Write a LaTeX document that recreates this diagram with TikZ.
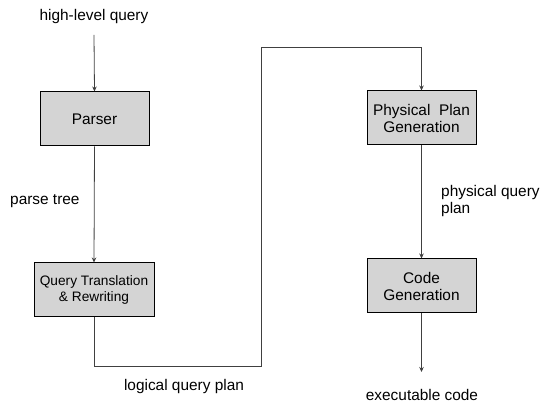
\documentclass[tikz,border=0pt]{standalone}
\usepackage{fontspec}
\setmainfont{Liberation Sans}
\usetikzlibrary{arrows.meta}
\begin{document}
\begin{tikzpicture}[x=1pt,y=-1pt,
  font=\fontsize{15.4}{17}\selectfont,
  procbox/.style={draw=black, line width=1pt, fill=black!17, minimum width=109pt, minimum height=54pt, align=center, inner sep=0pt},
  lbl/.style={inner sep=0pt},
  conn/.style={draw=black!75, line width=0.8pt},
  arr/.style={conn, -{Stealth[length=5pt,width=4.5pt]}}
]
\useasboundingbox (0,0) rectangle (541,403);
\node[lbl] (hl) at (94,17) {high-level query};
\node[procbox] (parser) at (94.5,119) {Parser};
\node[lbl, anchor=west] (pt) at (10,201) {parse tree};
\node[procbox, minimum width=120pt, font=\fontsize{13.7}{16}\selectfont] (qt) at (94,290) {Query Translation\\\& Rewriting};
\node[lbl] (lqp) at (184,387) {logical query plan};
\node[procbox] (ppg) at (421.5,118) {Physical\ \ Plan\\Generation};
\node[lbl, anchor=west, align=left, font=\fontsize{15.4}{17.5}\selectfont] (pqp) at (441,201) {physical query\\plan};
\node[procbox] (cg) at (421.5,286) {Code\\Generation};
\node[lbl] (ec) at (422,394.5) {executable code};

\coordinate (hlout) at (94,35);
\coordinate (c1) at (94,366);
\coordinate (c2) at (261,366);
\coordinate (c3) at (261,47);
\coordinate (c4) at (421.5,47);
\coordinate (ecin) at (421.5,372);

\draw[arr] (hlout) -- (parser.north);
\draw[arr] (parser.south) -- (qt.north);
\draw[arr] (qt.south) -- (c1) -- (c2) -- (c3) -- (c4) -- (ppg.north);
\draw[arr] (ppg.south) -- (cg.north);
\draw[arr] (cg.south) -- (ecin);
\end{tikzpicture}
\end{document}
